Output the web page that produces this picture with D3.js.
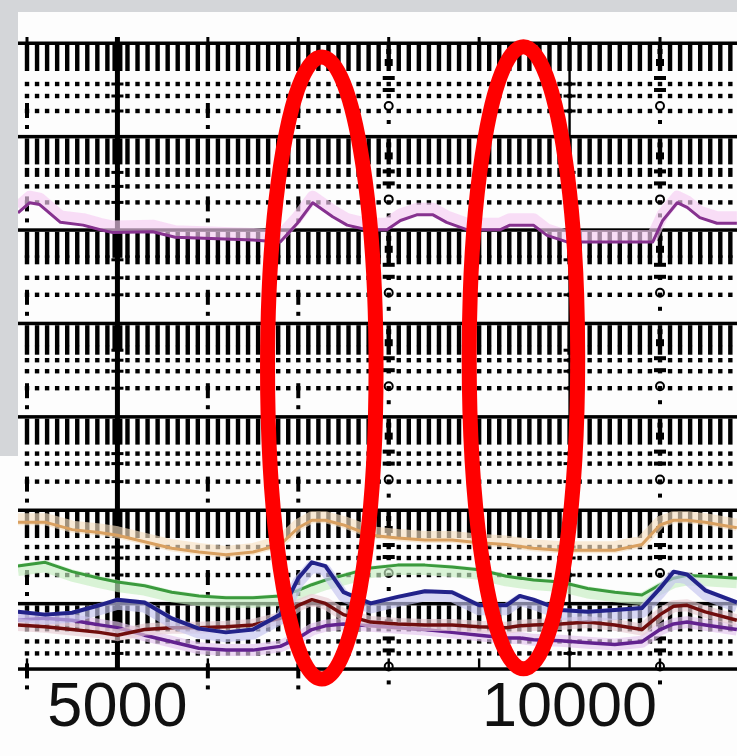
<!DOCTYPE html>
<html>
<head>
<meta charset="utf-8">
<script src="https://cdn.jsdelivr.net/npm/d3@7/dist/d3.min.js"></script>
<style>
  html, body { margin: 0; padding: 0; background: #d4d6d9; }
  svg { display: block; }
</style>
</head>
<body>
<div id="chart"></div>
<script>
// x positions (sample number) and y values (trace offset units)
const topX = [3900, 4030, 4140, 4370, 4620, 4810, 4950, 5390, 5640, 6500, 6800, 6990, 7160, 7380, 7540, 7760, 7980,
  8130, 8310, 8490, 8640, 8870, 9230, 9340, 9600, 9750, 9970, 10920, 11030, 11190, 11300, 11440, 11630, 11850];
const magentaTrace = [5.18, 5.29, 5.27, 5.08, 5.05, 5.00, 4.97, 4.98, 4.92, 4.89, 4.87, 5.07, 5.29, 5.14, 5.05, 5.00, 5.00,
  5.10, 5.16, 5.16, 5.08, 5.00, 5.00, 5.05, 5.05, 4.94, 4.87, 4.87, 5.10, 5.29, 5.24, 5.13, 5.07, 5.07];

const bottomX = [3900, 4200, 4500, 4800, 5000, 5300, 5600, 5900, 6200, 6500, 6800, 7000, 7150, 7300, 7500, 7800,
  8100, 8400, 8700, 9000, 9300, 9450, 9600, 9900, 10200, 10500, 10800, 11000, 11150, 11300, 11500, 11850];
const orangeTrace = [1.87, 1.87, 1.79, 1.76, 1.73, 1.66, 1.59, 1.55, 1.52, 1.55, 1.63, 1.81, 1.89, 1.89, 1.84, 1.73,
  1.70, 1.68, 1.68, 1.65, 1.63, 1.61, 1.59, 1.57, 1.57, 1.57, 1.63, 1.84, 1.89, 1.89, 1.87, 1.81];
const greenTrace = [1.40, 1.44, 1.34, 1.27, 1.23, 1.19, 1.12, 1.08, 1.06, 1.06, 1.08, 1.14, 1.20, 1.25, 1.30, 1.38,
  1.41, 1.41, 1.39, 1.36, 1.29, 1.27, 1.25, 1.23, 1.16, 1.12, 1.09, 1.20, 1.27, 1.30, 1.29, 1.27];
const blueTrace = [0.91, 0.88, 0.90, 0.98, 1.04, 1.01, 0.84, 0.73, 0.69, 0.72, 0.88, 1.27, 1.44, 1.40, 1.12, 1.00,
  1.07, 1.13, 1.12, 0.98, 0.98, 1.08, 1.04, 0.93, 0.91, 0.93, 0.95, 1.16, 1.34, 1.31, 1.14, 1.01];
const redTrace = [0.77, 0.75, 0.72, 0.69, 0.66, 0.72, 0.74, 0.74, 0.75, 0.77, 0.84, 0.98, 1.04, 1.00, 0.88, 0.80,
  0.78, 0.77, 0.77, 0.75, 0.74, 0.76, 0.77, 0.78, 0.80, 0.77, 0.72, 0.88, 0.97, 0.98, 0.91, 0.82];
const purpleTrace = [0.82, 0.84, 0.82, 0.77, 0.74, 0.66, 0.59, 0.52, 0.50, 0.50, 0.54, 0.63, 0.72, 0.76, 0.78, 0.76,
  0.74, 0.72, 0.69, 0.66, 0.63, 0.63, 0.61, 0.60, 0.58, 0.56, 0.59, 0.72, 0.78, 0.80, 0.77, 0.72];

// grid / axis
const bandTops = [7, 6, 5, 4, 3, 2, 1];
const majorTicks = [4000, 5000, 6000, 7000, 8000, 9000, 10000, 11000];
const tickLabels = [5000, 10000];
const minorPerMajor = 9;

// red highlight rings
const ringX = [7260, 9490];
const ringY = [3.52, 3.63];
const ringHalfWidth = 600;
const ringHalfHeight = 3.33;

const width = 737, height = 756;
const plot = { left: 18, top: 12 };

const x = d3.scaleLinear().domain([4000, 11000]).range([27, 660]);
const y = d3.scaleLinear().domain([7, 0.3]).range([43, 668.8]);

// rows inside each band (px below band line): d = dot, b = short bar
const bandRows = [
  [['d', 41], ['d', 53], ['d', 68]],
  [['b', 36], ['d', 50], ['d', 66]],
  [['b', 30], ['d', 48], ['d', 65]],
  [['b', 27], ['d', 37], ['d', 48], ['d', 65]],
  [['d', 37], ['d', 47], ['d', 65]],
  [['d', 37], ['d', 48], ['d', 65]],
  [['d', 38], ['d', 50]]
];

const svg = d3.select('#chart').append('svg')
  .attr('width', width)
  .attr('height', height);

const defs = svg.append('defs');
defs.append('filter').attr('id', 'soft')
  .append('feGaussianBlur').attr('stdDeviation', 0.45);
defs.append('clipPath').attr('id', 'plotClip')
  .append('rect').attr('x', plot.left).attr('y', plot.top)
  .attr('width', width - plot.left).attr('height', height - plot.top);

// background
svg.append('rect').attr('width', width).attr('height', height).attr('fill', '#d4d6d9');
svg.append('rect').attr('x', plot.left).attr('y', plot.top)
  .attr('width', width - plot.left).attr('height', height - plot.top).attr('fill', '#fdfdfd');
svg.append('rect').attr('x', 0).attr('y', 456)
  .attr('width', width).attr('height', height - 456).attr('fill', '#fdfdfd');

const grid = svg.append('g').attr('clip-path', 'url(#plotClip)')
  .append('g').attr('filter', 'url(#soft)');

const minorVals = d3.range(-1, 8 * minorPerMajor).map(i => 4000 + i * 1000 / minorPerMajor)
  .filter(v => x(v) > plot.left && x(v) < width + 2);

bandTops.forEach((b, i) => {
  const y0 = y(b);
  // solid band line
  grid.append('rect').attr('x', plot.left).attr('y', y0 - 1.5)
    .attr('width', width - plot.left).attr('height', 3.5).attr('fill', '#000');
  // tick row
  grid.selectAll(null).data(minorVals).join('rect')
    .attr('x', d => x(d) - 2.2).attr('y', y0 + 2)
    .attr('width', 4.4).attr('height', i === 3 ? 21 : 26).attr('fill', '#000');
  // dotted rows
  bandRows[i].forEach(([kind, off]) => {
    grid.selectAll(null).data(minorVals).join('rect')
      .attr('x', d => x(d) - 2.2).attr('y', y0 + off - (kind === 'b' ? 4.5 : 2.2))
      .attr('width', 4.4).attr('height', kind === 'b' ? 9 : 4.4).attr('fill', '#000');
  });
  // major verticals
  majorTicks.forEach(m => {
    const xm = x(m);
    if (m === 5000 || m === 10000) {
      bandRows[i].forEach(([kind, off]) => {
        grid.append('rect').attr('x', xm - 6).attr('y', y0 + off - 1.5)
          .attr('width', 12).attr('height', 3).attr('fill', '#000');
      });
      if (m === 5000) {
        grid.append('rect').attr('x', xm - 5).attr('y', y0 + 2)
          .attr('width', 10).attr('height', 26).attr('fill', '#000');
      }
    } else if (m === 8000 || m === 11000) {
      grid.append('rect').attr('x', xm - 2.5).attr('y', y0 + 6).attr('width', 5).attr('height', 5).attr('fill', '#000');
      grid.append('rect').attr('x', xm - 4).attr('y', y0 + 16).attr('width', 8).attr('height', 7).attr('fill', '#000');
      grid.append('rect').attr('x', xm - 6).attr('y', y0 + 33).attr('width', 12).attr('height', 4).attr('fill', '#000');
      grid.append('rect').attr('x', xm - 6).attr('y', y0 + 45).attr('width', 12).attr('height', 4).attr('fill', '#000');
      grid.append('circle').attr('cx', xm).attr('cy', y0 + 63).attr('r', 4)
        .attr('fill', 'none').attr('stroke', '#000').attr('stroke-width', 2);
      grid.append('rect').attr('x', xm - 2).attr('y', y0 + 77).attr('width', 4).attr('height', 4).attr('fill', '#000');
    } else if (m !== 9000) {
      grid.append('rect').attr('x', xm - 2).attr('y', y0 + 60).attr('width', 4).attr('height', 15).attr('fill', '#000');
      grid.append('rect').attr('x', xm - 2).attr('y', y0 + 82).attr('width', 4).attr('height', 4).attr('fill', '#000');
    }
  });
});

// top tick marks above first line
grid.selectAll(null).data(majorTicks).join('rect')
  .attr('x', d => x(d) - 1.5).attr('y', y(7) - 6)
  .attr('width', 3).attr('height', 6).attr('fill', '#000');

// major solid lines
grid.append('rect').attr('x', x(5000) - 2.5).attr('y', y(7) - 6)
  .attr('width', 5).attr('height', y(0.3) - y(7) + 6).attr('fill', '#000');
grid.append('rect').attr('x', x(10000) - 1.2).attr('y', y(7) - 6)
  .attr('width', 2.4).attr('height', y(0.3) - y(7) + 6).attr('fill', '#000');
[4000, 6000, 7000, 8000, 9000, 11000].forEach(m => {
  grid.append('rect').attr('x', x(m) - 1.2).attr('y', y(1) + 55)
    .attr('width', 2.4).attr('height', y(0.3) - y(1) - 55).attr('fill', '#000');
});

// bottom axis line
grid.append('rect').attr('x', plot.left).attr('y', y(0.3) - 1.5)
  .attr('width', width - plot.left).attr('height', 3.5).attr('fill', '#000');

// traces
const traces = svg.append('g').attr('clip-path', 'url(#plotClip)')
  .append('g').attr('filter', 'url(#soft)');

const line = d3.line().x(d => x(d[0])).y(d => y(d[1]));

const series = [
  { xs: bottomX, ys: orangeTrace, color: '#d9a060', glow: '#f7e0c2', shift: -3, w: 3 },
  { xs: bottomX, ys: greenTrace, color: '#3a9a3e', glow: '#c6eec2', shift: 4, w: 3 },
  { xs: bottomX, ys: purpleTrace, color: '#62228f', glow: '#e4c4ee', shift: 0, w: 3.5 },
  { xs: bottomX, ys: redTrace, color: '#701010', glow: '#e8ccd4', shift: 0, w: 3.5 },
  { xs: bottomX, ys: blueTrace, color: '#23238a', glow: '#c4c4f0', shift: 4, w: 4 },
  { xs: topX, ys: magentaTrace, color: '#86308f', glow: '#f6cdf2', shift: -6, w: 3 }
];

series.forEach(s => {
  const pts = s.xs.map((v, i) => [v, s.ys[i]]);
  traces.append('path').datum(pts)
    .attr('d', line)
    .attr('transform', `translate(0,${s.shift})`)
    .attr('fill', 'none')
    .attr('stroke', s.glow)
    .attr('stroke-width', 12)
    .attr('stroke-opacity', 0.65)
    .attr('stroke-linejoin', 'round');
  traces.append('path').datum(pts)
    .attr('d', line)
    .attr('fill', 'none')
    .attr('stroke', s.color)
    .attr('stroke-width', s.w)
    .attr('stroke-linejoin', 'round');
});

// x tick labels
svg.selectAll('.xlabel').data(tickLabels).join('text')
  .attr('class', 'xlabel')
  .attr('x', d => x(d))
  .attr('y', 726)
  .attr('text-anchor', 'middle')
  .attr('font-family', '"Liberation Sans", Arial, sans-serif')
  .attr('font-size', 63)
  .attr('fill', '#111')
  .text(d => d);

// red highlight rings
svg.selectAll('.ring').data(ringX).join('ellipse')
  .attr('class', 'ring')
  .attr('cx', d => x(d))
  .attr('cy', (d, i) => y(ringY[i]))
  .attr('rx', d => x(d + ringHalfWidth) - x(d))
  .attr('ry', (d, i) => y(ringY[i] - ringHalfHeight) - y(ringY[i]))
  .attr('fill', 'none')
  .attr('stroke', '#ff0000')
  .attr('stroke-width', 15);
</script>
</body>
</html>
